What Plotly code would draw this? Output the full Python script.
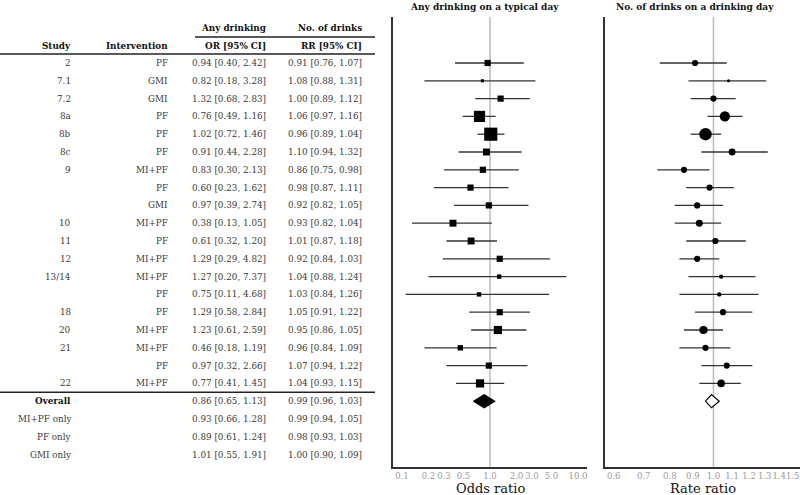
import plotly.graph_objects as go
import numpy as np

# ---------------- data ----------------
studies = ["2", "7.1", "7.2", "8a", "8b", "8c", "9", "", "", "10", "11", "12",
           "13/14", "", "18", "20", "21", "", "22"]
interventions = ["PF", "GMI", "GMI", "PF", "PF", "PF", "MI+PF", "PF", "GMI", "MI+PF",
                 "PF", "MI+PF", "MI+PF", "PF", "PF", "MI+PF", "MI+PF", "PF", "MI+PF"]
or_est = [0.94, 0.82, 1.32, 0.76, 1.02, 0.91, 0.83, 0.60, 0.97, 0.38, 0.61, 1.29, 1.27, 0.75, 1.29, 1.23, 0.46, 0.97, 0.77]
or_lo = [0.40, 0.18, 0.68, 0.49, 0.72, 0.44, 0.30, 0.23, 0.39, 0.13, 0.32, 0.29, 0.20, 0.11, 0.58, 0.61, 0.18, 0.32, 0.41]
or_hi = [2.42, 3.28, 2.83, 1.16, 1.46, 2.28, 2.13, 1.62, 2.74, 1.05, 1.20, 4.82, 7.37, 4.68, 2.84, 2.59, 1.19, 2.66, 1.45]
rr_est = [0.91, 1.08, 1.00, 1.06, 0.96, 1.10, 0.86, 0.98, 0.92, 0.93, 1.01, 0.92, 1.04, 1.03, 1.05, 0.95, 0.96, 1.07, 1.04]
rr_lo = [0.76, 0.88, 0.89, 0.97, 0.89, 0.94, 0.75, 0.87, 0.82, 0.82, 0.87, 0.84, 0.88, 0.84, 0.91, 0.86, 0.84, 0.94, 0.93]
rr_hi = [1.07, 1.31, 1.12, 1.16, 1.04, 1.32, 0.98, 1.11, 1.05, 1.04, 1.18, 1.03, 1.24, 1.26, 1.22, 1.05, 1.09, 1.22, 1.15]
# relative study weights
or_weight = [4, 1, 4, 13, 18, 5, 4, 4, 4, 5, 5, 4, 2, 2, 4, 7, 3, 4, 7]
rr_weight = [4, 1, 4, 11, 16, 5, 4, 4, 4, 5, 4, 4, 2, 2, 4, 7, 4, 4, 6]

summary_labels = ["Overall", "MI+PF only", "PF only", "GMI only"]
sum_or = ["0.86 [0.65, 1.13]", "0.93 [0.66, 1.28]", "0.89 [0.61, 1.24]", "1.01 [0.55, 1.91]"]
sum_rr = ["0.99 [0.96, 1.03]", "0.99 [0.94, 1.05]", "0.98 [0.93, 1.03]", "1.00 [0.90, 1.09]"]
overall_or = (0.86, 0.65, 1.13)
overall_rr = (0.99, 0.96, 1.03)

or_ticks = [0.1, 0.2, 0.3, 0.5, 1.0, 2.0, 3.0, 5.0, 10.0]
rr_ticks = [0.6, 0.7, 0.8, 0.9, 1.0, 1.1, 1.2, 1.3, 1.4, 1.5]

# ---------------- layout helpers ----------------
FONT = "DejaVu Serif"
W, H = 800, 495
n = len(studies)
rows = list(range(n))
overall_row = n
sum_rows = list(range(n, n + len(summary_labels)))

fig = go.Figure()

LINE_C = "#333333"

def forest(xa, ya, est, lo, hi, weight, symbol, scale):
    xs, ys = [], []
    for r, l, h in zip(rows, lo, hi):
        xs += [l, h, None]
        ys += [r, r, None]
    fig.add_trace(go.Scatter(x=xs, y=ys, mode="lines", line=dict(color=LINE_C, width=1.3),
                             xaxis=xa, yaxis=ya, hoverinfo="skip", showlegend=False))
    sizes = [scale * np.sqrt(w) for w in weight]
    fig.add_trace(go.Scatter(x=est, y=rows, mode="markers",
                             marker=dict(symbol=symbol, size=sizes, color="black", opacity=1,
                                         line=dict(width=0)),
                             xaxis=xa, yaxis=ya, showlegend=False))

forest("x2", "y2", or_est, or_lo, or_hi, or_weight, "square", 3.1)
forest("x3", "y3", rr_est, rr_lo, rr_hi, rr_weight, "circle", 3.1)

def diamond(xa, ya, vals, fill):
    e, l, h = vals
    dh = 0.37
    fig.add_trace(go.Scatter(x=[l, e, h, e, l], y=[overall_row, overall_row - dh, overall_row, overall_row + dh, overall_row],
                             mode="lines", fill="toself", fillcolor=fill,
                             line=dict(color="black", width=1.2), xaxis=xa, yaxis=ya,
                             showlegend=False, hoverinfo="skip"))

diamond("x2", "y2", overall_or, "black")
diamond("x3", "y3", overall_rr, "white")

# ---------------- table ----------------
ann = []
TXT = "#3a3a3a"
def t(x, y, s, bold=False, anchor="right", size=8.8, color=TXT):
    ann.append(dict(x=x, y=y, xref="x", yref="y", text=("<b>%s</b>" % s) if bold else s,
                    showarrow=False, xanchor=anchor, yanchor="middle",
                    font=dict(family=FONT, size=size, color=color)))

COL_STUDY, COL_INT, COL_OR, COL_RR = 73, 170, 268, 364
t(COL_OR, -1.98, "Any drinking", bold=True, color="#111")
t(COL_RR, -1.98, "No. of drinks", bold=True, color="#111")
t(COL_STUDY, -0.96, "Study", bold=True, color="#111")
t(COL_INT, -0.96, "Intervention", bold=True, color="#111")
t(COL_OR, -0.96, "OR [95% CI]", bold=True, color="#111")
t(COL_RR, -0.96, "RR [95% CI]", bold=True, color="#111")

for i in rows:
    if studies[i]:
        t(COL_STUDY, i, studies[i])
    t(COL_INT, i, interventions[i])
    t(COL_OR, i, "%.2f [%.2f, %.2f]" % (or_est[i], or_lo[i], or_hi[i]))
    t(COL_RR, i, "%.2f [%.2f, %.2f]" % (rr_est[i], rr_lo[i], rr_hi[i]))

for k, r in enumerate(sum_rows):
    t(COL_STUDY, r, summary_labels[k], bold=(k == 0), color="#111" if k == 0 else TXT)
    t(COL_OR, r, sum_or[k])
    t(COL_RR, r, sum_rr[k])

shapes = [
    dict(type="line", xref="x", yref="y", x0=195, x1=375, y0=-1.46, y1=-1.46, line=dict(color="#222", width=1.5)),
    dict(type="line", xref="x", yref="y", x0=0, x1=375, y0=-0.5, y1=-0.5, line=dict(color="#222", width=1.5)),
    dict(type="line", xref="x", yref="y", x0=0, x1=375, y0=n - 0.5, y1=n - 0.5, line=dict(color="#222", width=1.5)),
    dict(type="line", xref="x2", yref="y2 domain", x0=1, x1=1, y0=0, y1=1, line=dict(color="#bbbbbb", width=1.5), layer="below"),
    dict(type="line", xref="x3", yref="y3 domain", x0=1, x1=1, y0=0, y1=1, line=dict(color="#bbbbbb", width=1.5), layer="below"),
]

# panel titles
ann.append(dict(x=484 / W, y=1 - 7 / H, xref="paper", yref="paper", text="<b>Any drinking on a typical day</b>",
                showarrow=False, xanchor="center", yanchor="middle", font=dict(family=FONT, size=9, color="#111")))
ann.append(dict(x=695 / W, y=1 - 7 / H, xref="paper", yref="paper", text="<b>No. of drinks on a drinking day</b>",
                showarrow=False, xanchor="center", yanchor="middle", font=dict(family=FONT, size=9, color="#111")))
ann.append(dict(x=490 / W, y=1 - 488 / H, xref="paper", yref="paper", text="Odds ratio",
                showarrow=False, xanchor="center", yanchor="middle", font=dict(family=FONT, size=13, color="#111")))
ann.append(dict(x=702.5 / W, y=1 - 488 / H, xref="paper", yref="paper", text="Rate ratio",
                showarrow=False, xanchor="center", yanchor="middle", font=dict(family=FONT, size=13, color="#111")))

yrange = [(467 - 63) / 17.8, (17 - 63) / 17.8]
ydom = [28 / H, 478 / H]

def yax(anchor, show):
    return dict(domain=ydom, range=yrange, anchor=anchor, showgrid=False, zeroline=False,
                showticklabels=False, ticks="", showline=show, linecolor=LINE_C, linewidth=1.5, fixedrange=True)

tickfont = dict(family=FONT, size=8.5, color="#999999")
fig.update_layout(
    width=W, height=H, autosize=False,
    margin=dict(l=0, r=0, t=0, b=0),
    plot_bgcolor="white", paper_bgcolor="white",
    xaxis=dict(domain=[0, 380 / W], range=[0, 380], visible=False, anchor="y"),
    yaxis=yax("x", False) | dict(visible=False),
    xaxis2=dict(domain=[393 / W, 587 / W], type="log", range=[-1.102, 1.102], anchor="y2",
                tickvals=or_ticks, ticktext=["%.1f" % v for v in or_ticks], tickfont=tickfont,
                tickangle=0, showgrid=False, zeroline=False, showline=True, linecolor=LINE_C, linewidth=1.5,
                ticks="", automargin=False),
    yaxis2=yax("x2", True),
    xaxis3=dict(domain=[605 / W, 1.0], type="log",
                range=[np.log10(0.574), np.log10(1.557)], anchor="y3",
                tickvals=rr_ticks, ticktext=["%.1f" % v for v in rr_ticks], tickfont=tickfont,
                tickangle=0, showgrid=False, zeroline=False, showline=True, linecolor=LINE_C, linewidth=1.5,
                ticks="", automargin=False),
    yaxis3=yax("x3", True),
    annotations=ann,
    shapes=shapes,
)

fig.write_html("out.html", config={"displayModeBar": False},
               post_script="document.body.style.margin='0';document.body.style.padding='0';")
